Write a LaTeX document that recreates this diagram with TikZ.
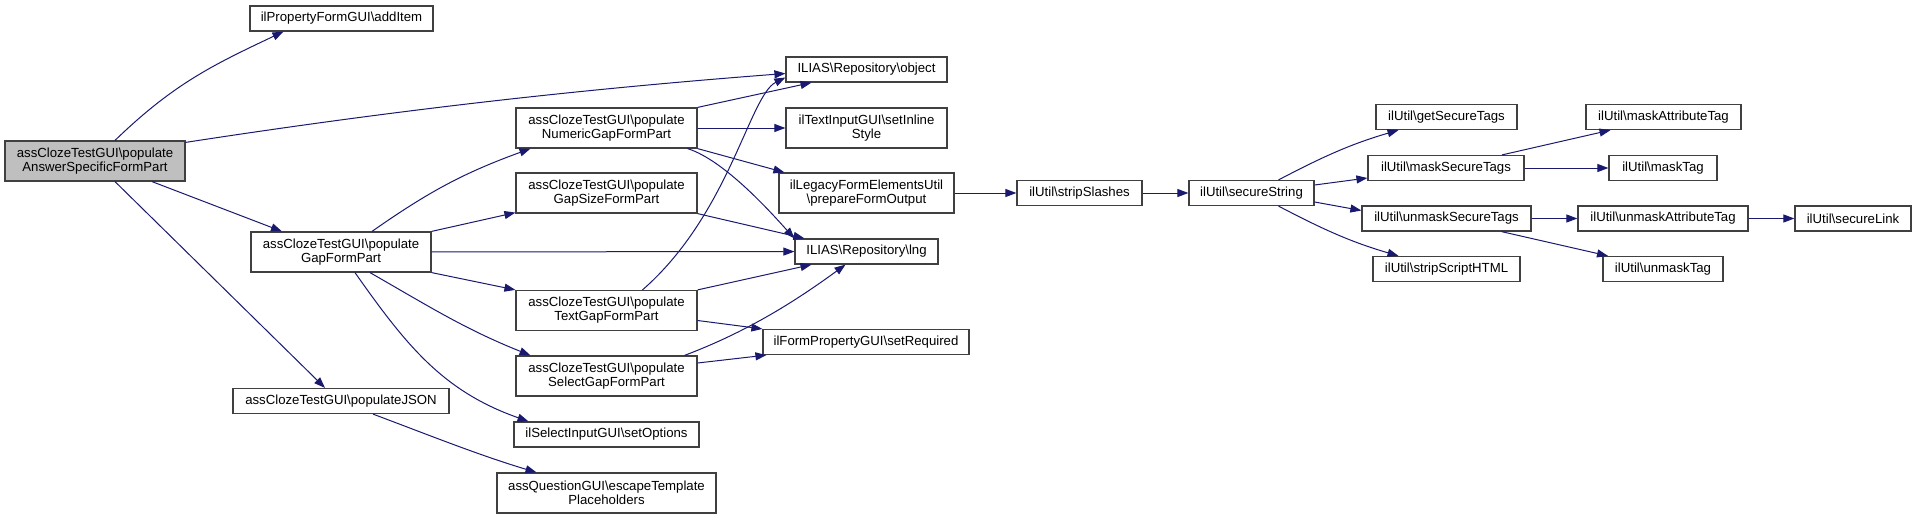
\documentclass[tikz,border=0pt]{standalone}
\usepackage{fontspec}
\setmainfont{Liberation Sans}
\usetikzlibrary{arrows.meta}
\usepackage{xcolor}
\definecolor{callblue}{RGB}{25,25,112}
\definecolor{mainfill}{RGB}{191,191,191}
\newcommand{\bsl}{\textbackslash}

\begin{document}
\begin{tikzpicture}[x=1pt, y=-1pt,
    fn/.style={draw=black!75, line width=1.2pt, rectangle, fill=white, align=center, inner sep=2pt, minimum height=25pt, font=\fontsize{13.2}{14}\selectfont},
    tall/.style={minimum height=40pt},
    call/.style={draw=callblue, line width=1pt, -{Triangle[length=11pt,width=8pt]}}]
    \useasboundingbox (0,0) rectangle (1916,519);

    \node[fn, tall, fill=mainfill, minimum width=180pt] (main) at (95,161) {assClozeTestGUI\bsl populate\\AnswerSpecificFormPart};
    \node[fn, minimum width=183pt] (additem) at (341.5,18.5) {ilPropertyFormGUI\bsl addItem};
    \node[fn, tall, minimum width=180pt] (gap) at (341,252) {assClozeTestGUI\bsl populate\\GapFormPart};
    \node[fn, minimum width=216pt] (json) at (341,401) {assClozeTestGUI\bsl populateJSON};
    \node[fn, tall, minimum width=219pt] (escape) at (606.5,493) {assQuestionGUI\bsl escapeTemplate\\Placeholders};
    \node[fn, tall, minimum width=181pt] (numeric) at (606.5,128) {assClozeTestGUI\bsl populate\\NumericGapFormPart};
    \node[fn, tall, minimum width=181pt] (gapsize) at (606.5,193) {assClozeTestGUI\bsl populate\\GapSizeFormPart};
    \node[fn, tall, minimum width=181pt] (textgap) at (606.5,310.5) {assClozeTestGUI\bsl populate\\TextGapFormPart};
    \node[fn, tall, minimum width=181pt] (selectgap) at (606.5,376) {assClozeTestGUI\bsl populate\\SelectGapFormPart};
    \node[fn, minimum width=185pt] (setopts) at (606.5,434.5) {ilSelectInputGUI\bsl setOptions};
    \node[fn, minimum width=161pt] (object) at (866.5,69.5) {ILIAS\bsl Repository\bsl object};
    \node[fn, tall, minimum width=161pt] (inline) at (866.5,128) {ilTextInputGUI\bsl setInline\\Style};
    \node[fn, tall, minimum width=175pt] (prepare) at (866.5,193) {ilLegacyFormElementsUtil\\\bsl prepareFormOutput};
    \node[fn, minimum width=143pt] (lng) at (866.5,251.5) {ILIAS\bsl Repository\bsl lng};
    \node[fn, minimum width=206pt] (setreq) at (866,342) {ilFormPropertyGUI\bsl setRequired};
    \node[fn, minimum width=125pt] (strip) at (1079.5,193) {ilUtil\bsl stripSlashes};
    \node[fn, minimum width=125pt] (secure) at (1251.5,193) {ilUtil\bsl secureString};
    \node[fn, minimum width=141pt] (gettags) at (1446.5,117) {ilUtil\bsl getSecureTags};
    \node[fn, minimum width=156pt] (masktags) at (1446,168) {ilUtil\bsl maskSecureTags};
    \node[fn, minimum width=169pt] (unmasktags) at (1446.5,218.5) {ilUtil\bsl unmaskSecureTags};
    \node[fn, minimum width=147pt] (stripscript) at (1446.5,269) {ilUtil\bsl stripScriptHTML};
    \node[fn, minimum width=155pt] (maskattr) at (1663.5,117) {ilUtil\bsl maskAttributeTag};
    \node[fn, minimum width=108pt] (masktag) at (1663,168) {ilUtil\bsl maskTag};
    \node[fn, minimum width=170pt] (unmaskattr) at (1663,218.5) {ilUtil\bsl unmaskAttributeTag};
    \node[fn, minimum width=116pt] (securelink) at (1853,218.5) {ilUtil\bsl secureLink};
    \node[fn, minimum width=120pt] (unmasktag) at (1663,269) {ilUtil\bsl unmaskTag};

    \draw[call] ([xshift=20pt]main.north) .. controls +(58,-56) and +(-72,34) .. ([xshift=-58pt]additem.south);
    \draw[call] ([yshift=-2pt]main.north east) .. controls +(208,-32) and +(-209,16) .. ([yshift=-4pt]object.west);
    \draw[call] ([xshift=57pt]main.south) -- ([xshift=-59pt]gap.north);
    \draw[call] ([xshift=20pt]main.south) -- ([xshift=-16pt]json.north);
    \draw[call] ([xshift=31pt]gap.north) .. controls +(57,-40) and +(-66,24) .. ([xshift=-76pt]numeric.south);
    \draw[call] (gap.north east) -- ([yshift=1pt]gapsize.south west);
    \draw[call] (gap) -- (lng);
    \draw[call] (gap.south east) -- (textgap.north west);
    \draw[call] ([xshift=29pt]gap.south) .. controls +(61,35) and +(-65,-26) .. ([xshift=-76pt]selectgap.north);
    \draw[call] ([xshift=14pt]gap.south) .. controls +(52,74) and +(-85,-30) .. ([xshift=-78pt]setopts.north);
    \draw[call] (numeric.north east) -- ([xshift=-55pt]object.south);
    \draw[call] (numeric) -- (inline);
    \draw[call] (numeric.south east) -- ([xshift=6pt]prepare.north west);
    \draw[call] ([xshift=-10pt]numeric.south east) .. controls +(38,12) and +(-20,-22) .. (lng.north west);
    \draw[call] (gapsize.south east) -- ([xshift=10pt]lng.north west);
    \draw[call] ([xshift=36pt]textgap.north) .. controls +(87,-76) and +(-36,18) .. ([yshift=-8pt]object.west);
    \draw[call] (textgap.north east) -- ([xshift=-55pt]lng.south);
    \draw[call] ([yshift=-10pt]textgap.east) -- (setreq.north west);
    \draw[call] ([xshift=78pt]selectgap.north) .. controls +(61,-23) and +(-52,38) .. ([xshift=-21pt]lng.south);
    \draw[call] ([yshift=13pt]selectgap.east) -- ([xshift=4pt]setreq.south west);
    \draw[call] ([xshift=32pt]json.south) .. controls +(56,21) and +(-57,-17) .. ([xshift=-70pt]escape.north);
    \draw[call] (prepare) -- (strip);
    \draw[call] (strip) -- (secure);
    \draw[call] ([xshift=27pt]secure.north) .. controls +(44,-23) and +(-48,14) .. ([xshift=-48pt]gettags.south);
    \draw[call] ([yshift=8pt]secure.east) -- ([yshift=-10pt]masktags.west);
    \draw[call] ([yshift=-9pt]secure.east) -- ([yshift=8pt]unmasktags.west);
    \draw[call] ([xshift=27pt]secure.south) .. controls +(44,23) and +(-48,-14) .. ([xshift=-48pt]stripscript.north);
    \draw[call] ([xshift=56pt]masktags.north) -- ([xshift=-53pt]maskattr.south);
    \draw[call] (masktags) -- (masktag);
    \draw[call] (unmasktags) -- (unmaskattr);
    \draw[call] (unmaskattr) -- (securelink);
    \draw[call] ([xshift=55pt]unmasktags.south) -- ([xshift=-55pt]unmasktag.north);
\end{tikzpicture}
\end{document}
